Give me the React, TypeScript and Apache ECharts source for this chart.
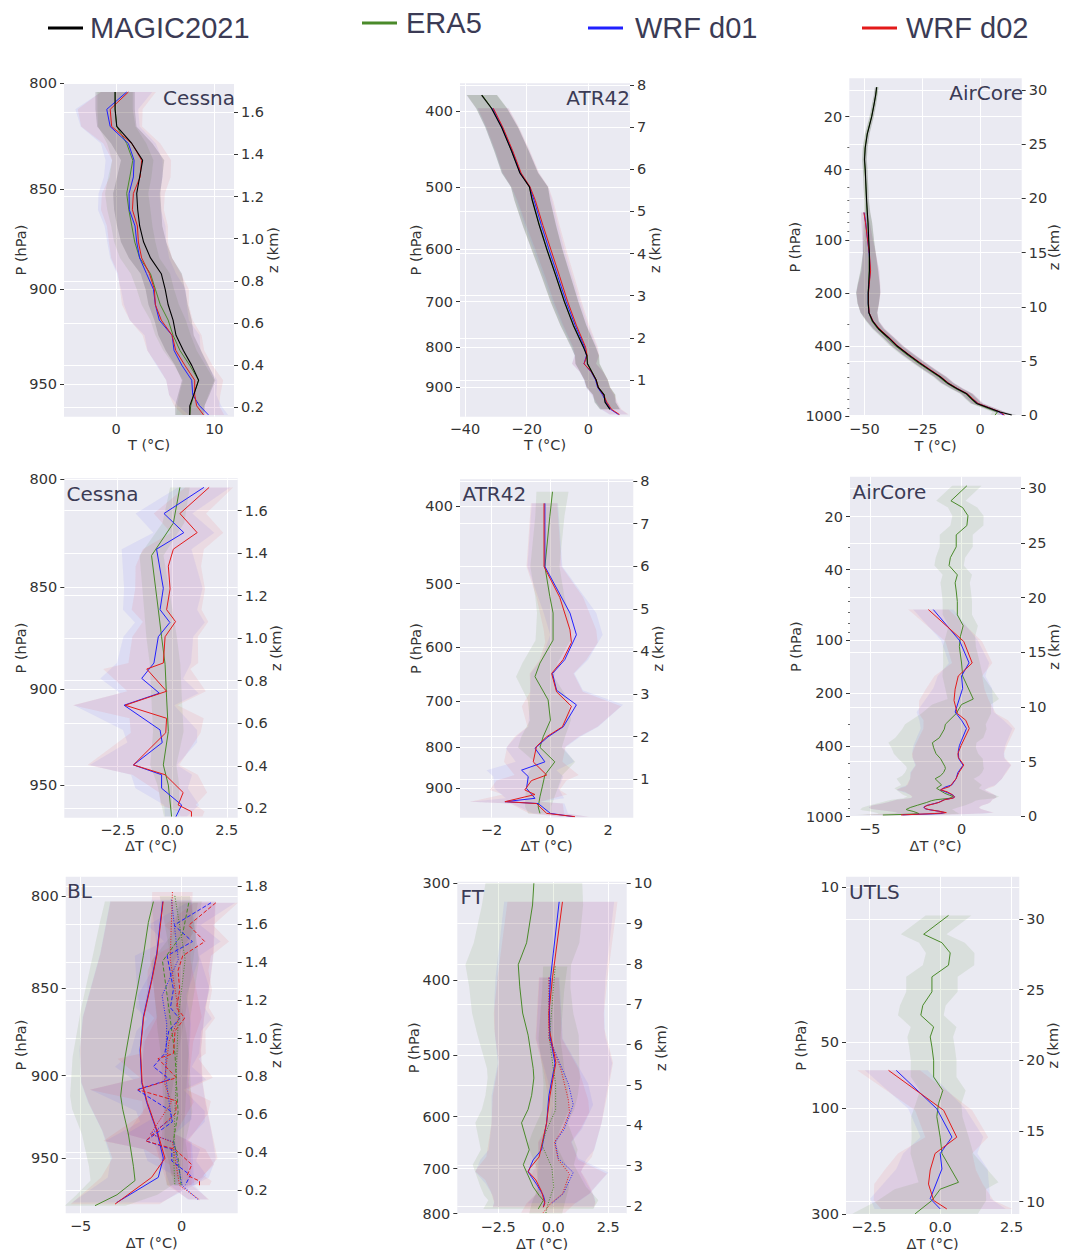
import React, { useEffect, useRef } from "react";
import * as echarts from "echarts";

// ---------------- Legend names ----------------
const legendNames = ["MAGIC2021", "ERA5", "WRF d01", "WRF d02"];

// ---------------- Cessna, temperature (hPa / °C) ----------------
const cessTP = [804, 812, 820, 828, 836, 844, 852, 860, 868, 876, 884, 892, 900, 908, 916, 924, 932, 940, 948, 956, 962, 967];
const cessT_obs = [-0.1, -0.1, 0.07, 1.6, 2.7, 2.4, 2.1, 2.2, 2.4, 2.8, 3.5, 4.6, 5.0, 5.3, 5.8, 6.1, 6.85, 7.7, 8.4, 7.9, 7.5, 7.5];
const cessT_era5 = [-0.1, -0.1, 0.07, 1.08, 1.7, 1.4, 1.08, 1.3, 1.6, 1.9, 2.4, 3.5, 4.0, 4.5, 5.3, 5.8, 6.5, 7.5, 8.4, 7.9, 7.6, 7.5];
const cessT_d01 = [1.08, -0.95, -0.6, 1.25, 1.83, 1.76, 1.32, 1.35, 1.93, 2.1, 2.4, 3.1, 3.8, 4.0, 4.4, 5.7, 5.9, 6.7, 7.7, 7.8, 8.5, 9.4];
const cessT_d02 = [1.25, -0.6, -0.45, 1.6, 2.6, 2.45, 1.76, 1.66, 2.17, 2.27, 2.6, 3.4, 3.9, 4.0, 4.6, 5.7, 6.07, 7.0, 8.0, 8.0, 8.2, 8.9];
const cessTStd_obs = [2.0, 2.0, 2.0, 2.1, 2.2, 2.3, 2.4, 2.4, 2.3, 2.3, 2.2, 2.1, 2.0, 2.0, 1.9, 1.8, 1.8, 1.7, 1.7, 1.6, 1.5, 1.5];
const cessTStd_era5 = [1.8, 1.8, 1.9, 2.0, 2.1, 2.2, 2.2, 2.2, 2.1, 2.1, 2.0, 2.0, 1.9, 1.9, 1.8, 1.8, 1.7, 1.6, 1.6, 1.5, 1.4, 1.4];
const cessTStd_d01 = [2.6, 3.2, 3.0, 2.8, 2.9, 3.0, 3.1, 3.2, 3.1, 3.0, 3.0, 3.0, 3.3, 3.2, 3.0, 2.8, 2.7, 2.6, 2.6, 2.4, 2.2, 2.0];
const cessTStd_d02 = [2.8, 3.3, 3.1, 2.9, 3.0, 3.1, 3.2, 3.2, 3.1, 3.0, 3.1, 3.2, 3.5, 3.4, 3.2, 3.0, 2.9, 2.8, 2.9, 2.6, 2.3, 2.1];

// ---------------- ATR42, temperature ----------------
const atrTP = [382, 397, 420, 450, 480, 500, 520, 560, 600, 650, 700, 750, 800, 820, 840, 860, 880, 900, 920, 940, 960, 975];
const atrT_obs = [-34.6, -31.4, -28.1, -24.9, -22.2, -19.1, -18.2, -15.9, -13.5, -10.5, -7.8, -4.9, -1.6, -0.5, -0.3, 1.1, 2.5, 3.2, 5.1, 5.4, 7.0, null];
const atrT_era5 = [-34.4, -31.3, -28.0, -24.9, -22.1, -19.1, -18.1, -15.8, -13.4, -10.4, -7.7, -4.8, -1.5, -0.4, -0.2, 1.2, 2.5, 3.3, 5.2, 5.5, 7.0, null];
const atrT_d01 = [null, -31.0, -27.9, -24.7, -22.0, -19.0, -17.6, -15.2, -12.8, -9.9, -7.2, -4.3, -1.2, -0.6, -1.4, 0.9, 2.3, 3.0, 4.6, 5.8, 7.2, 9.8];
const atrT_d02 = [null, -30.8, -27.7, -24.5, -21.8, -18.9, -17.2, -14.7, -12.2, -9.3, -6.7, -3.9, -0.9, -0.4, -1.4, 1.0, 2.5, 3.2, 4.9, 6.0, 7.5, 10.1];
const atrTStd = [4.9, 5.0, 5.3, 5.6, 5.9, 6.0, 5.8, 5.4, 5.0, 4.7, 4.5, 4.2, 4.0, 3.9, 3.9, 3.8, 3.8, 3.8, 3.6, 3.4, 3.2, 3.0];

// ---------------- AirCore, temperature ----------------
const acTP = [13.6, 15, 17, 20, 25, 30, 35, 40, 50, 60, 70, 80, 100, 120, 150, 180, 200, 230, 260, 290, 320, 360, 400, 450, 500, 550, 600, 650, 700, 750, 800, 850, 900, 950, 990];
const acT_obs = [-44.7, -45.1, -45.8, -46.8, -48.7, -49.6, -49.9, -49.6, -49.3, -49.0, -48.7, -48.4, -48.1, -47.8, -47.8, -48.1, -48.3, -48.3, -48.0, -46.4, -43.9, -39.6, -36.0, -31.0, -26.2, -21.6, -17.3, -14.1, -10.1, -5.8, -3.6, -1.4, 3.6, 8.6, 13.7];
const acT_era5 = [-44.6, -45.0, -45.8, -46.9, -48.8, -49.7, -50.0, -49.7, -49.3, -49.1, -48.8, -48.5, -48.2, -47.9, -47.9, -48.2, -48.4, -48.4, -48.1, -46.7, -44.3, -40.2, -36.6, -31.6, -26.8, -22.1, -17.8, -14.6, -10.6, -6.2, -4.0, -1.8, 2.8, 7.5, 6.5];
const acT_d01 = [null, null, null, null, null, null, null, null, null, null, -50.1, -49.4, -48.6, -47.9, -47.4, -48.0, -48.3, -48.3, -48.0, -46.3, -43.7, -39.4, -35.8, -30.8, -26.0, -21.4, -17.1, -13.9, -9.9, -5.6, -3.3, -1.0, 3.9, 8.2, 10.0];
const acT_d02 = [null, null, null, null, null, null, null, null, null, null, -50.2, -49.5, -48.6, -47.8, -47.3, -47.9, -48.2, -48.2, -47.9, -46.2, -43.5, -39.2, -35.6, -30.6, -25.8, -21.2, -16.9, -13.7, -9.7, -5.4, -3.1, -0.8, 4.0, 8.6, 10.5];
const acTStd = [0.8, 0.8, 0.9, 0.9, 1, 1, 1, 1, 1, 1, 1.3, 1.8, 2.3, 2.8, 3.8, 4.8, 5.2, 4.6, 3.6, 2.6, 2.4, 2.4, 2.5, 2.6, 2.6, 2.6, 2.6, 2.6, 2.5, 2.5, 2.5, 2.4, 2.3, 2.2, 2.0];

// ---------------- Cessna, ΔT ----------------
const cessDP_era5 = [803.6, 819.9, 835, 860.8, 874, 887.6, 904.6, 921.8, 939.3, 950, 967];
const cessD_era5 = [0.35, 0.05, -0.95, -0.64, -0.49, -0.33, -0.26, -0.18, -0.41, -0.18, -0.03];
const cessDStd_era5 = [0.45, 0.5, 0.55, 0.65, 0.7, 0.7, 0.7, 0.7, 0.6, 0.5, 0.35];
const cessDP_d01 = [803.6, 815.5, 824.3, 832, 850.5, 860.8, 867, 874, 887, 894.7, 902.2, 908.3, 921, 927.6, 939.3, 944.5, 951.7, 960.7, 967];
const cessD_d01 = [1.45, -0.38, 0.53, -0.72, -0.41, -0.56, -0.11, -0.64, -0.84, -1.4, -0.59, -2.21, -0.56, -0.46, -1.78, -0.49, -0.49, 0.43, 0.17];
const cessDStd_d01 = [1.2, 1.3, 1.4, 1.6, 1.8, 1.7, 1.6, 1.6, 1.7, 1.9, 1.8, 2.3, 1.7, 1.6, 2.0, 1.4, 1.2, 0.8, 0.5];
const cessDP_d02 = [803.6, 815.5, 824.3, 832, 840, 850.8, 860.8, 866.6, 874, 887, 890, 901.2, 908.3, 915, 922.5, 939.3, 944.5, 954, 960.7, 964.3, 967];
const cessD_d02 = [1.69, 0.35, 1.14, 0.05, -0.18, -0.1, -0.26, 0.15, -0.33, -0.41, -1.17, -0.26, -2.16, -0.26, -0.3, -1.78, -0.33, 0.5, 0.27, 0.88, 0.88];
const cessDStd_d02 = [1.1, 1.2, 1.2, 1.4, 1.5, 1.6, 1.6, 1.5, 1.5, 1.6, 2.0, 1.8, 2.4, 1.7, 1.6, 2.1, 1.5, 1.1, 0.8, 0.6, 0.5];

// ---------------- ATR42, ΔT ----------------
const atrDP_era5 = [384, 412, 476, 519, 544, 588, 628, 653, 698, 740, 776, 800, 834, 866, 896, 922, 949, 967];
const atrD_era5 = [0.09, 0, -0.17, 0, 0.11, 0.11, -0.34, -0.51, -0.06, 0.02, -0.23, -0.34, 0.17, -0.17, -0.26, -0.34, -0.4, -0.34];
const atrDStd_era5 = [0.55, 0.5, 0.5, 0.5, 0.55, 0.6, 0.6, 0.65, 0.7, 0.7, 0.75, 0.75, 0.7, 0.6, 0.55, 0.5, 0.45, 0.4];
const atrDP_d01 = [397, 476, 544, 579, 622, 647, 679, 708, 754, 776, 802, 834, 854, 870, 900, 926, 935, 940, 967, 976];
const atrD_d01 = [-0.17, -0.17, 0.69, 0.91, 0.51, 0.09, 0.23, 0.91, 0.46, -0.06, -0.51, -0.17, -0.97, -0.74, -0.8, -0.51, -1.54, -0.4, 0.02, 0.8];
const atrDStd_d01 = [0.45, 0.6, 0.9, 0.9, 0.8, 0.75, 0.9, 1.6, 1.2, 1.1, 1.0, 1.0, 1.2, 1.2, 1.1, 1.0, 1.2, 0.9, 0.6, 0.5];
const atrDP_d02 = [397, 476, 520, 571, 592, 622, 647, 682, 711, 754, 776, 798, 834, 866, 880, 904, 916, 935, 940, 967, 976];
const atrD_d02 = [-0.2, -0.2, 0.34, 0.69, 0.74, 0.45, 0.06, 0.23, 0.74, 0.43, -0.11, -0.46, -0.57, -0.11, -0.63, -0.86, -0.51, -1.54, -0.46, -0.11, 0.86];
const atrDStd_d02 = [0.45, 0.6, 0.8, 0.9, 0.9, 0.8, 0.75, 0.9, 1.7, 1.2, 1.1, 1.0, 1.0, 1.1, 1.2, 1.2, 1.1, 1.2, 0.9, 0.6, 0.5];

// ---------------- AirCore, ΔT ----------------
const acDP_era5 = [13.4, 16.3, 17.8, 19.8, 22.5, 25.4, 29.7, 34.2, 37.9, 42.8, 47.5, 52.8, 60.6, 72.1, 83, 95.3, 109, 135, 160, 216, 232, 261, 300, 320, 358, 382, 408, 441, 471, 520, 535, 563, 587, 611, 662, 692, 739, 758, 769, 789, 803, 814, 832, 862, 889, 912, 920, 935, 955, 964, 973, 980];
const acD_era5 = [0.29, -0.58, 0.06, 0.35, 0.29, -0.29, -0.29, -0.61, -0.68, -0.23, -0.35, -0.29, -0.23, -0.23, 0.09, -0.06, -0.12, 0, 0.06, 0.64, 0, -0.29, -0.88, -0.94, -1.21, -1.59, -1.52, -1.39, -1.14, -0.91, -0.88, -0.98, -1.14, -1.44, -1.09, -1.36, -0.91, -0.64, -0.45, -0.68, -1.4, -1.65, -1.9, -2.39, -2.8, -3.02, -2.92, -2.64, -2.39, -2.31, -3.2, -4.29];
const acDStd_era5 = [0.8, 0.8, 0.8, 0.85, 0.9, 0.9, 0.9, 0.8, 0.8, 0.8, 0.8, 0.8, 0.8, 0.8, 0.8, 0.8, 0.9, 1.0, 1.1, 1.4, 1.6, 1.9, 2.2, 2.3, 2.4, 2.4, 2.3, 2.3, 2.3, 2.1, 2.1, 2.1, 2.1, 2.1, 2.2, 2.3, 2.4, 2.5, 2.5, 2.5, 2.4, 2.4, 2.5, 2.6, 2.6, 2.5, 2.5, 2.3, 2.2, 2.2, 2.0, 1.5];
const acDP_d01 = [67.3, 100.4, 134.9, 160, 188, 256, 285, 317, 370, 397, 427, 471, 512, 564, 611, 662, 682, 707, 733, 758, 771, 785, 803, 831, 845, 866, 885, 904, 916, 933, 950, 962, 978];
const acD_d01 = [-1.54, -0.12, 0.41, 0, 0.06, -0.35, 0, 0.27, 0, -0.12, -0.18, -0.15, 0.08, -0.2, -0.3, -0.53, -0.91, -1.14, -0.76, -0.45, -0.38, -0.45, -0.94, -1.24, -1.49, -1.9, -2.06, -1.98, -1.73, -1.24, -0.91, -1.16, -3.22];
const acDStd_d01 = [1.1, 1.0, 1.1, 1.3, 1.6, 2.1, 2.3, 2.5, 2.5, 2.5, 2.5, 2.5, 2.6, 2.6, 2.5, 2.4, 2.4, 2.4, 2.3, 2.3, 2.3, 2.3, 2.6, 2.8, 2.9, 3.0, 3.0, 3.0, 2.9, 2.7, 2.6, 2.5, 2.2];
const acDP_d02 = [67.3, 102, 135, 160, 190, 220, 261, 285, 317, 397, 441, 462, 511, 564, 611, 676, 699, 706, 724, 749, 776, 785, 803, 831, 845, 866, 885, 904, 916, 933, 950, 962, 979];
const acD_d02 = [-1.81, 0.12, 0.58, -0.18, -0.35, -0.41, -0.23, 0.23, 0.42, -0.03, -0.2, -0.18, 0.12, -0.15, -0.3, -0.64, -1.06, -1.14, -0.79, -0.53, -0.38, -0.45, -0.92, -1.22, -1.47, -1.88, -2.04, -1.96, -1.7, -1.22, -0.83, -1.49, -3.3];
const acDStd_d02 = [1.1, 1.0, 1.1, 1.3, 1.6, 1.9, 2.1, 2.3, 2.5, 2.5, 2.5, 2.5, 2.6, 2.6, 2.5, 2.4, 2.4, 2.4, 2.3, 2.3, 2.3, 2.3, 2.6, 2.8, 2.9, 3.0, 3.0, 3.0, 2.9, 2.7, 2.6, 2.5, 2.2];

// ---------------- Axis tick labels ----------------
const pTicksCessna = [800, 850, 900, 950];
const pTicksATR = [400, 500, 600, 700, 800, 900];
const pTicksAirCore = [20, 40, 100, 200, 400, 1000];
const pMinorAirCore = [30, 50, 60, 70, 80, 90, 300, 500, 600, 700, 800, 900];
const pTicksFT = [300, 400, 500, 600, 700, 800];
const pTicksUTLS = [10, 50, 100, 300];
const zTicksCessna = [0.2, 0.4, 0.6, 0.8, 1.0, 1.2, 1.4, 1.6];
const zTicksBL = [0.2, 0.4, 0.6, 0.8, 1.0, 1.2, 1.4, 1.6, 1.8];
const zTicksATR = [1, 2, 3, 4, 5, 6, 7, 8];
const zTicksAirCore = [0, 5, 10, 15, 20, 25, 30];
const zTicksFT = [2, 3, 4, 5, 6, 7, 8, 9, 10];
const zTicksUTLS = [10, 15, 20, 25, 30];

// ---------------- Styling ----------------
const BG = "#EAEAF2";
const TICK = "#333333";
const TITLE = "#3b3b55";
const FONT = "DejaVu Sans";
const LINE_COLOR: Record<string, string> = { obs: "#000000", era5: "#4a8a2a", d01: "#2020ff", d02: "#e31a1a" };
const BAND_COLOR: Record<string, string> = {
  obs: "rgba(20,20,20,0.15)",
  era5: "rgba(80,140,50,0.11)",
  d01: "rgba(50,50,255,0.075)",
  d02: "rgba(235,30,30,0.075)",
};
const KIND_NAME: Record<string, string> = { obs: "MAGIC2021", era5: "ERA5", d01: "WRF d01", d02: "WRF d02" };

type Kind = "obs" | "era5" | "d01" | "d02";
interface Prof { kind: Kind; p: number[]; v: (number | null)[]; s: number[]; dash?: "solid" | "dashed" | "dotted"; w?: number }

const cessT: Prof[] = [
  { kind: "era5", p: cessTP, v: cessT_era5, s: cessTStd_era5 },
  { kind: "d01", p: cessTP, v: cessT_d01, s: cessTStd_d01 },
  { kind: "d02", p: cessTP, v: cessT_d02, s: cessTStd_d02 },
  { kind: "obs", p: cessTP, v: cessT_obs, s: cessTStd_obs, w: 1.1 },
];
const atrT: Prof[] = [
  { kind: "era5", p: atrTP, v: atrT_era5, s: atrTStd },
  { kind: "d01", p: atrTP, v: atrT_d01, s: atrTStd },
  { kind: "d02", p: atrTP, v: atrT_d02, s: atrTStd },
  { kind: "obs", p: atrTP, v: atrT_obs, s: atrTStd, w: 1.1 },
];
const acT: Prof[] = [
  { kind: "era5", p: acTP, v: acT_era5, s: acTStd },
  { kind: "d01", p: acTP, v: acT_d01, s: acTStd },
  { kind: "d02", p: acTP, v: acT_d02, s: acTStd },
  { kind: "obs", p: acTP, v: acT_obs, s: acTStd, w: 1.1 },
];
const cessD = (dash: "solid" | "dashed" | "dotted"): Prof[] => [
  { kind: "era5", p: cessDP_era5, v: cessD_era5, s: cessDStd_era5, dash },
  { kind: "d01", p: cessDP_d01, v: cessD_d01, s: cessDStd_d01, dash },
  { kind: "d02", p: cessDP_d02, v: cessD_d02, s: cessDStd_d02, dash },
];
const atrD = (dash: "solid" | "dashed" | "dotted"): Prof[] => [
  { kind: "era5", p: atrDP_era5, v: atrD_era5, s: atrDStd_era5, dash },
  { kind: "d01", p: atrDP_d01, v: atrD_d01, s: atrDStd_d01, dash },
  { kind: "d02", p: atrDP_d02, v: atrD_d02, s: atrDStd_d02, dash },
];
const acD = (dash: "solid" | "dashed" | "dotted"): Prof[] => [
  { kind: "era5", p: acDP_era5, v: acD_era5, s: acDStd_era5, dash },
  { kind: "d01", p: acDP_d01, v: acD_d01, s: acDStd_d01, dash },
  { kind: "d02", p: acDP_d02, v: acD_d02, s: acDStd_d02, dash },
];

interface Panel {
  box: [number, number, number, number];
  xr: [number, number]; xTicks: number[]; xDec: number; xName: string; xGap: number;
  pr: [number, number]; pTicks: number[]; pMinor?: number[]; pGap: number;
  zr: [number, number]; zTicks: number[]; zDec: number; zGap: number;
  title: string; tLeft?: number; tRight?: number; tTop: number;
  profs: Prof[];
}

const panels: Panel[] = [
  { box: [64, 83.3, 234, 416.7], xr: [-5.3, 12.0], xTicks: [0, 10], xDec: 0, xName: "T (°C)", xGap: 21,
    pr: [800, 968], pTicks: pTicksCessna, pGap: 36, zr: [0.155, 1.738], zTicks: zTicksCessna, zDec: 1, zGap: 31,
    title: "Cessna", tRight: 1065 - 235, tTop: 88, profs: cessT },
  { box: [460, 83.3, 630, 416.7], xr: [-41.6, 13.5], xTicks: [-40, -20, 0], xDec: 0, xName: "T (°C)", xGap: 21,
    pr: [369, 981], pTicks: pTicksATR, pGap: 37, zr: [0.129, 8.04], zTicks: zTicksATR, zDec: 0, zGap: 17,
    title: "ATR42", tRight: 1065 - 630, tTop: 88, profs: atrT },
  { box: [849.3, 78.3, 1021.7, 416], xr: [-56.5, 18.0], xTicks: [-50, -25, 0], xDec: 0, xName: "T (°C)", xGap: 22,
    pr: [12.1, 1002], pTicks: pTicksAirCore, pMinor: pMinorAirCore, pGap: 47, zr: [-0.05, 31.08], zTicks: zTicksAirCore, zDec: 0, zGap: 25,
    title: "AirCore", tRight: 1065 - 1023, tTop: 83, profs: acT },
  { box: [64.3, 478.3, 237.7, 817.7], xr: [-4.95, 3.0], xTicks: [-2.5, 0, 2.5], xDec: 1, xName: "ΔT (°C)", xGap: 21,
    pr: [799.5, 967.6], pTicks: pTicksCessna, pGap: 36, zr: [0.156, 1.752], zTicks: zTicksCessna, zDec: 1, zGap: 31,
    title: "Cessna", tLeft: 66.5, tTop: 484, profs: cessD("solid") },
  { box: [460, 479.3, 633.3, 817.7], xr: [-3.08, 2.86], xTicks: [-2, 0, 2], xDec: 0, xName: "ΔT (°C)", xGap: 21,
    pr: [370.5, 979], pTicks: pTicksATR, pGap: 37, zr: [0.1, 8.04], zTicks: zTicksATR, zDec: 0, zGap: 17,
    title: "ATR42", tLeft: 462.5, tTop: 484, profs: atrD("solid") },
  { box: [850, 476.7, 1021, 816.7], xr: [-6.08, 3.24], xTicks: [-5, 0], xDec: 0, xName: "ΔT (°C)", xGap: 22,
    pr: [11.9, 1002], pTicks: pTicksAirCore, pMinor: pMinorAirCore, pGap: 47, zr: [-0.05, 31.06], zTicks: zTicksAirCore, zDec: 0, zGap: 25,
    title: "AirCore", tLeft: 852.5, tTop: 482, profs: acD("solid") },
  { box: [65.7, 876.7, 237.7, 1213.3], xr: [-5.74, 2.77], xTicks: [-5, 0], xDec: 0, xName: "ΔT (°C)", xGap: 22,
    pr: [790, 984.9], pTicks: pTicksCessna, pGap: 37, zr: [0.077, 1.849], zTicks: zTicksBL, zDec: 1, zGap: 31,
    title: "BL", tLeft: 67, tTop: 881, profs: [...acD("solid"), ...cessD("dashed"), ...atrD("dotted")] },
  { box: [457.3, 881.7, 626.7, 1214], xr: [-4.36, 3.34], xTicks: [-2.5, 0, 2.5], xDec: 1, xName: "ΔT (°C)", xGap: 22,
    pr: [298.6, 801], pTicks: pTicksFT, pGap: 36, zr: [1.8, 10.04], zTicks: zTicksFT, zDec: 0, zGap: 27,
    title: "FT", tLeft: 460.5, tTop: 887, profs: [...acD("solid"), ...atrD("dotted")] },
  { box: [846, 876.7, 1019.3, 1214], xr: [-3.3, 2.77], xTicks: [-2.5, 0, 2.5], xDec: 1, xName: "ΔT (°C)", xGap: 22,
    pr: [8.95, 300.5], pTicks: pTicksUTLS, pGap: 38, zr: [9.13, 33.0], zTicks: zTicksUTLS, zDec: 0, zGap: 26,
    title: "UTLS", tLeft: 849, tTop: 882, profs: acD("solid") },
];

const fmtNum = (v: number, d: number) => (v < -1e-9 ? "\u2212" : "") + Math.abs(v).toFixed(d);
const labelStyle = { color: TICK, fontSize: 14.5, fontFamily: FONT };
const nameStyle = { color: TICK, fontSize: 14.5, fontFamily: FONT };
const white = { show: true, lineStyle: { color: "#ffffff", width: 1 } };
const noLine = { show: false, onZero: false };

function buildOption() {
  const grids: any[] = [];
  const xAxes: any[] = [];
  const yAxes: any[] = [];
  const series: any[] = [];
  const titles: any[] = [];

  panels.forEach((pn, i) => {
    const [l, t, r, b] = pn.box;
    grids.push({ left: l, top: t, width: r - l, height: b - t, show: true, backgroundColor: BG, borderWidth: 0, containLabel: false, outerBoundsMode: "none" });
    xAxes.push({
      type: "value", gridIndex: i, position: "bottom", min: pn.xr[0], max: pn.xr[1],
      axisLine: noLine,
      axisTick: { show: false, customValues: pn.xTicks },
      axisLabel: { ...labelStyle, margin: 5, customValues: pn.xTicks, formatter: (v: number) => fmtNum(v, pn.xDec) },
      splitLine: white,
      name: pn.xName, nameLocation: "middle", nameGap: pn.xGap, nameMoveOverlap: false, nameTextStyle: nameStyle,
    });
    const pT = pn.pTicks.map((v) => Math.log10(v));
    const yl = yAxes.length;
    yAxes.push({
      type: "value", gridIndex: i, position: "left", inverse: true,
      min: Math.log10(pn.pr[0]), max: Math.log10(pn.pr[1]),
      axisLine: noLine,
      axisTick: { show: true, length: 4, customValues: pT, lineStyle: { color: TICK, width: 1 } },
      axisLabel: { ...labelStyle, margin: 7, customValues: pT, formatter: (v: number) => String(Math.round(Math.pow(10, v))) },
      splitLine: white,
      name: "P (hPa)", nameLocation: "middle", nameGap: pn.pGap, nameMoveOverlap: false, nameTextStyle: nameStyle,
    });
    yAxes.push({
      type: "value", gridIndex: i, position: "right", min: pn.zr[0], max: pn.zr[1],
      axisLine: noLine,
      axisTick: { show: true, length: 4, customValues: pn.zTicks, lineStyle: { color: TICK, width: 1 } },
      axisLabel: { ...labelStyle, margin: 7, customValues: pn.zTicks, formatter: (v: number) => v.toFixed(pn.zDec) },
      splitLine: white,
      name: "z (km)", nameLocation: "middle", nameGap: pn.zGap, nameMoveOverlap: false, nameTextStyle: nameStyle,
    });
    if (pn.pMinor) {
      yAxes.push({
        type: "value", gridIndex: i, position: "left", inverse: true,
        min: Math.log10(pn.pr[0]), max: Math.log10(pn.pr[1]),
        axisLine: noLine, axisLabel: { show: false }, splitLine: { show: false },
        axisTick: { show: true, length: 2, customValues: pn.pMinor.map((v) => Math.log10(v)), lineStyle: { color: "#666", width: 1 } },
      });
    }
    const inRange = (p: number) => p >= pn.pr[0] - 1e-6 && p <= pn.pr[1] + 1e-6;

    // shaded ±σ bands
    pn.profs.forEach((pf) => {
      const pts: number[][] = [];
      pf.p.forEach((p, k) => {
        const v = pf.v[k];
        if (v === null || v === undefined || !inRange(p)) return;
        pts.push([v - pf.s[k], v + pf.s[k], Math.log10(p)]);
      });
      if (pts.length < 2) return;
      const color = BAND_COLOR[pf.kind];
      series.push({
        type: "custom", name: KIND_NAME[pf.kind] + " band", coordinateSystem: "cartesian2d",
        xAxisIndex: i, yAxisIndex: yl, clip: true, silent: true, z: 1,
        data: pts, encode: { x: [0, 1], y: 2 },
        renderItem: (params: any, api: any) => {
          if (params.dataIndex !== 0) return null;
          const left = pts.map((d) => api.coord([d[0], d[2]]));
          const right = pts.slice().reverse().map((d) => api.coord([d[1], d[2]]));
          return { type: "polygon", shape: { points: left.concat(right) }, style: { fill: color }, silent: true };
        },
      });
    });
    // profile lines
    pn.profs.forEach((pf) => {
      const data: number[][] = [];
      pf.p.forEach((p, k) => {
        const v = pf.v[k];
        if (v === null || v === undefined || !inRange(p)) return;
        data.push([v, Math.log10(p)]);
      });
      const dash = pf.dash === "dashed" ? [4, 2] : pf.dash === "dotted" ? [1, 1.6] : "solid";
      series.push({
        type: "line", name: KIND_NAME[pf.kind], xAxisIndex: i, yAxisIndex: yl, data,
        showSymbol: false, symbol: "none", clip: true, silent: true, z: 3,
        lineStyle: { color: LINE_COLOR[pf.kind], width: pf.w ?? 1, type: dash },
        itemStyle: { color: LINE_COLOR[pf.kind] },
      });
    });
    titles.push({
      text: pn.title, top: pn.tTop, padding: 0,
      ...(pn.tRight !== undefined ? { right: pn.tRight } : { left: pn.tLeft }),
      textStyle: { color: TITLE, fontSize: 20, fontFamily: FONT, fontWeight: "normal" },
    });
  });

  const legendPos = [
    { left: 48, top: 13, gap: 2 },
    { left: 362, top: 8, gap: 4 },
    { left: 588, top: 13, gap: 7 },
    { left: 862, top: 13, gap: 4 },
  ];
  const legendColors = [LINE_COLOR.obs, LINE_COLOR.era5, LINE_COLOR.d01, LINE_COLOR.d02];
  const legends = legendNames.map((nm, k) => ({
    left: legendPos[k].left, top: legendPos[k].top, padding: 0, itemWidth: 35, itemHeight: 3, itemGap: 0,
    selectedMode: false,
    data: [{ name: nm, icon: "rect", itemStyle: { color: legendColors[k] } }],
    textStyle: { color: TITLE, fontSize: 29, fontFamily: "Liberation Sans", lineHeight: 30, padding: [0, 0, 0, legendPos[k].gap] },
  }));

  return {
    animation: false,
    backgroundColor: "#ffffff",
    title: titles,
    legend: legends,
    grid: grids,
    xAxis: xAxes,
    yAxis: yAxes,
    series,
  };
}

export default function App() {
  const ref = useRef<HTMLDivElement>(null);
  useEffect(() => {
    if (!ref.current) return;
    const chart = echarts.init(ref.current, undefined, { renderer: "svg" });
    chart.setOption(buildOption() as any);
    return () => chart.dispose();
  }, []);
  return <div ref={ref} style={{ position: "absolute", left: 0, top: 0, width: 1065, height: 1250 }} />;
}
